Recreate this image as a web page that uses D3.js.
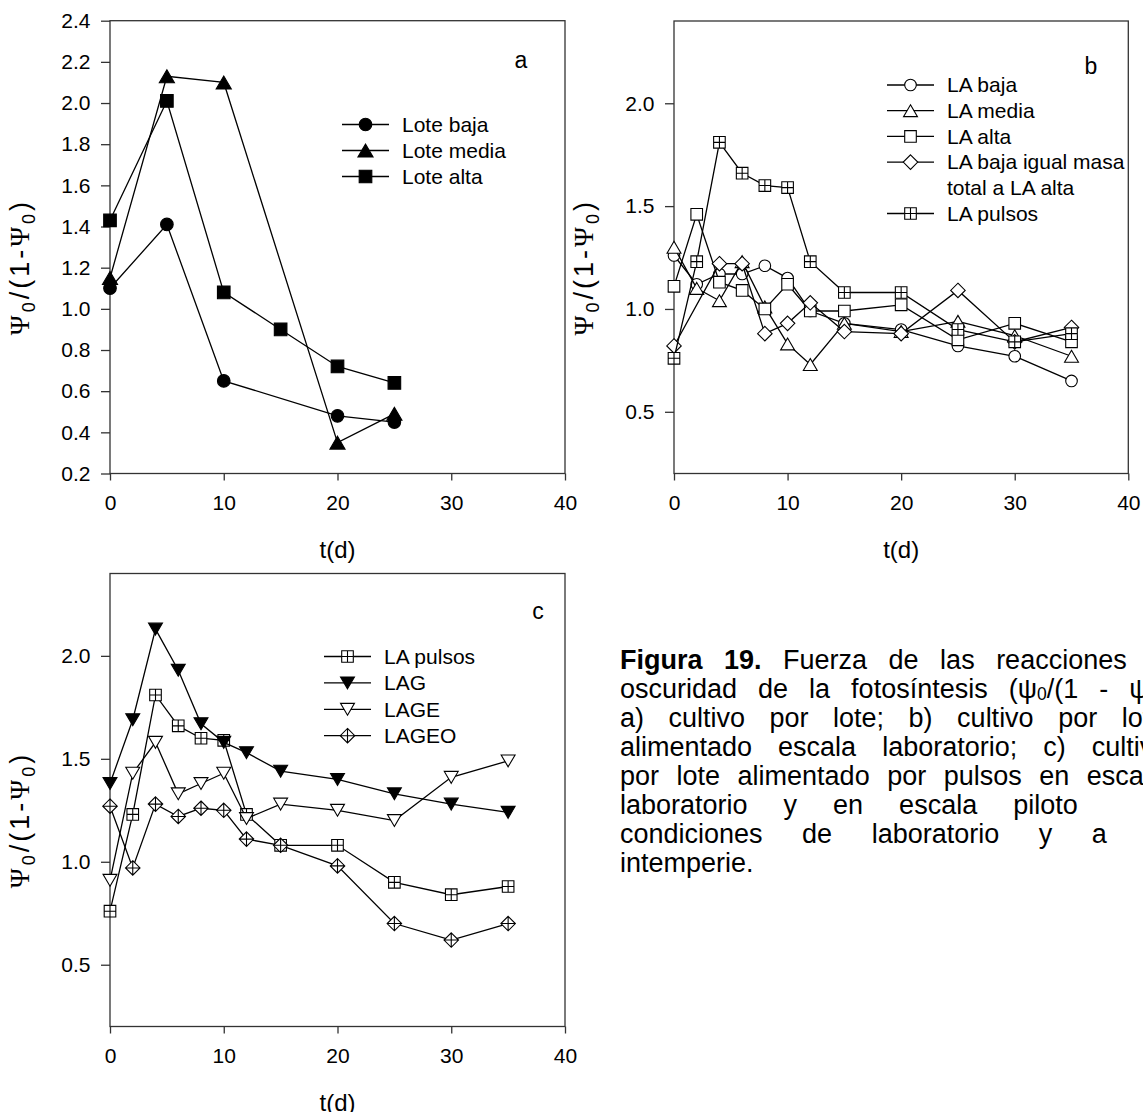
<!doctype html>
<head>
  <meta charset="utf-8">
  <script src="https://cdnjs.cloudflare.com/ajax/libs/d3/7.8.2/d3.min.js"></script>
</head>
<style>
    body { margin: 0; background: white; width: 1143px; height: 1112px; overflow: hidden; position: relative;
           font-family: Arial, "Liberation Sans", sans-serif; }
    svg { position: absolute; left: 0; top: 0; }
    .caption { position: absolute; left: 620px; top: 646px; font-size: 27px; line-height: 29px; color: #000; }
    .caption div { white-space: nowrap; }
    .caption sub { font-size: 65%; vertical-align: -2px; line-height: 0; }
    .caption .tail { margin-left: 40px; }
</style>
<body>
    <div class="caption">
        <div style="word-spacing: 14px"><b>Figura 19.</b> Fuerza de las reacciones de</div>
        <div style="word-spacing: 13.5px">oscuridad de la fotosíntesis (ψ<sub>0</sub>/(1 - ψ<sub>0</sub>)) en:</div>
        <div style="word-spacing: 17px">a) cultivo por lote; b) cultivo por lote</div>
        <div style="word-spacing: 18.5px">alimentado escala laboratorio; c) cultivo</div>
        <div style="word-spacing: 10px">por lote alimentado por pulsos en escala</div>
        <div style="word-spacing: 28.5px">laboratorio y en escala piloto <span class="tail">en</span></div>
        <div style="word-spacing: 32px">condiciones de laboratorio y a la</div>
        <div>intemperie.</div>
    </div>
    <script>
        // Datos: panel a (cultivo por lote)
        const daysLote = [0, 5, 10, 15, 20, 25];
        const loteBaja = [1.10, 1.41, 0.65, null, 0.48, 0.45];
        const loteMedia = [1.15, 2.13, 2.10, null, 0.35, 0.49];
        const loteAlta = [1.43, 2.01, 1.08, 0.90, 0.72, 0.64];

        // Datos: paneles b y c (lote alimentado)
        const daysLA = [0, 2, 4, 6, 8, 10, 12, 15, 20, 25, 30, 35];
        const laBaja = [1.26, 1.12, 1.17, 1.17, 1.21, 1.15, 0.99, 0.93, 0.90, 0.82, 0.77, 0.65];
        const laMedia = [1.30, 1.10, 1.04, 1.23, 1.01, 0.83, 0.73, 0.93, 0.89, 0.94, 0.87, 0.77];
        const laAlta = [1.11, 1.46, 1.13, 1.09, 1.00, 1.12, 0.99, 0.99, 1.02, 0.85, 0.93, 0.84];
        const laBajaIgualMasa = [0.82, null, 1.22, 1.22, 0.88, 0.93, 1.03, 0.89, 0.88, 1.09, 0.84, 0.91];
        const laPulsos = [0.76, 1.23, 1.81, 1.66, 1.60, 1.59, 1.23, 1.08, 1.08, 0.90, 0.84, 0.88];
        const lag = [1.38, 1.69, 2.13, 1.93, 1.67, 1.58, 1.53, 1.44, 1.40, 1.33, 1.28, 1.24];
        const lage = [0.91, 1.43, 1.58, 1.33, 1.38, 1.43, 1.21, 1.28, 1.25, 1.20, 1.41, 1.49];
        const lageo = [1.27, 0.97, 1.28, 1.22, 1.26, 1.25, 1.11, 1.08, 0.98, 0.70, 0.62, 0.70];

        // Ejes
        const tTicks = [0, 10, 20, 30, 40];
        const yTicksLote = [0.2, 0.4, 0.6, 0.8, 1.0, 1.2, 1.4, 1.6, 1.8, 2.0, 2.2, 2.4];
        const yTicksLA = [0.5, 1.0, 1.5, 2.0];

        // Formas de marcador (centradas en 0,0)
        function markerPath(type, s) {
            const sq = `M${-s},${-s}H${s}V${s}H${-s}Z`;
            const d = s * 1.25;
            const dm = `M0,${-d}L${d},0L0,${d}L${-d},0Z`;
            const w = s * 1.2, h = s * 2.05;
            switch (type) {
                case 'circle':
                    return `M${s},0A${s},${s} 0 1,1 ${-s},0A${s},${s} 0 1,1 ${s},0Z`;
                case 'square': return sq;
                case 'squarePlus': return sq + `M0,${-s}V${s}M${-s},0H${s}`;
                case 'diamond': return dm;
                case 'diamondPlus': return dm + `M0,${-d}V${d}M${-d},0H${d}`;
                case 'triUp': return `M0,${-h / 2}L${w},${h / 2}L${-w},${h / 2}Z`;
                case 'triDown': return `M0,${h / 2}L${w},${-h / 2}L${-w},${-h / 2}Z`;
            }
        }

        const svg = d3.select('body').append('svg')
            .attr('width', 1143)
            .attr('height', 1112)
            .style('font-family', 'Arial, "Liberation Sans", sans-serif');

        function drawPanel(cfg) {
            const x = d3.scaleLinear().domain([0, 40]).range([cfg.left, cfg.right]);
            const y = d3.scaleLinear().domain([0.2, 2.4]).range([cfg.bottom, cfg.top]);
            const g = svg.append('g');

            // Marco
            g.append('rect')
                .attr('x', cfg.left).attr('y', cfg.top)
                .attr('width', cfg.right - cfg.left).attr('height', cfg.bottom - cfg.top)
                .attr('fill', 'none').attr('stroke', '#333').attr('stroke-width', 1.3);

            // Eje x
            const gx = g.append('g')
                .attr('transform', `translate(0,${cfg.bottom})`)
                .call(d3.axisBottom(x).tickValues(tTicks).tickSize(7).tickPadding(15).tickSizeOuter(0));
            // Eje y
            const gy = g.append('g')
                .attr('transform', `translate(${cfg.left},0)`)
                .call(d3.axisLeft(y).tickValues(cfg.yTicks).tickSize(9).tickPadding(10.5)
                    .tickFormat(d3.format('.1f')).tickSizeOuter(0));
            [gx, gy].forEach(a => {
                a.select('.domain').remove();
                a.selectAll('line').attr('stroke', '#333').attr('stroke-width', 1.3);
                a.selectAll('text').attr('font-size', 21).attr('fill', '#000')
                    .attr('font-family', 'Arial, "Liberation Sans", sans-serif');
            });

            // Títulos de ejes
            g.append('text')
                .attr('x', (cfg.left + cfg.right) / 2).attr('y', cfg.bottom + 84)
                .attr('text-anchor', 'middle').attr('font-size', 24)
                .text('t(d)');
            const yl = g.append('text')
                .attr('transform', `translate(${cfg.left - 81},${(cfg.top + cfg.bottom) / 2 + 20}) rotate(-90)`)
                .attr('text-anchor', 'middle').attr('font-size', 27)
                .attr('letter-spacing', 3);
            yl.append('tspan').attr('font-family', '"Liberation Serif", "DejaVu Serif", serif').text('Ψ');
            yl.append('tspan').attr('font-size', 18).attr('dy', 6).text('0');
            yl.append('tspan').attr('dy', -6).text('/(1-');
            yl.append('tspan').attr('font-family', '"Liberation Serif", "DejaVu Serif", serif').text('Ψ');
            yl.append('tspan').attr('font-size', 18).attr('dy', 6).text('0');
            yl.append('tspan').attr('dy', -6).text(')');

            // Letra del panel
            g.append('text')
                .attr('x', cfg.letterX).attr('y', cfg.letterY)
                .attr('dy', '0.36em').attr('text-anchor', 'middle').attr('font-size', 23)
                .text(cfg.letter);

            // Series
            const line = d3.line().x(p => x(p.t)).y(p => y(p.v));
            cfg.series.forEach(s => {
                const pts = s.days.map((t, i) => ({ t: t, v: s.values[i] })).filter(p => p.v != null);
                g.append('path').datum(pts)
                    .attr('d', line)
                    .attr('fill', 'none').attr('stroke', '#000').attr('stroke-width', 1.3);
                g.selectAll(null).data(pts).enter().append('path')
                    .attr('transform', p => `translate(${x(p.t)},${y(p.v)})`)
                    .attr('d', markerPath(s.marker, cfg.size))
                    .attr('fill', s.filled ? '#000' : '#fff')
                    .attr('stroke', '#000').attr('stroke-width', 1.1);
            });

            // Leyenda
            let row = 0;
            cfg.series.forEach(s => {
                const ly = cfg.legY + row * cfg.legStep;
                g.append('line')
                    .attr('x1', cfg.legX).attr('x2', cfg.legX + 47)
                    .attr('y1', ly).attr('y2', ly)
                    .attr('stroke', '#000').attr('stroke-width', 1.3);
                g.append('path')
                    .attr('transform', `translate(${cfg.legX + 23.5},${ly})`)
                    .attr('d', markerPath(s.marker, cfg.size))
                    .attr('fill', s.filled ? '#000' : '#fff')
                    .attr('stroke', '#000').attr('stroke-width', 1.1);
                s.label.forEach((lab, k) => {
                    g.append('text')
                        .attr('x', cfg.legX + 60).attr('y', ly + k * cfg.legStep)
                        .attr('dy', '0.35em').attr('font-size', 21)
                        .text(lab);
                });
                row += s.label.length;
            });
        }

        drawPanel({
            left: 110, right: 565, top: 20.7, bottom: 473.5,
            yTicks: yTicksLote, size: 6.3,
            letter: 'a', letterX: 521, letterY: 60,
            legX: 342, legY: 124.5, legStep: 26,
            series: [
                { label: ['Lote baja'], days: daysLote, values: loteBaja, marker: 'circle', filled: true },
                { label: ['Lote media'], days: daysLote, values: loteMedia, marker: 'triUp', filled: true },
                { label: ['Lote alta'], days: daysLote, values: loteAlta, marker: 'square', filled: true },
            ],
        });

        drawPanel({
            left: 674, right: 1128.3, top: 21, bottom: 473.5,
            yTicks: yTicksLA, size: 5.8,
            letter: 'b', letterX: 1091, letterY: 66,
            legX: 887, legY: 85, legStep: 25.7,
            series: [
                { label: ['LA baja'], days: daysLA, values: laBaja, marker: 'circle' },
                { label: ['LA media'], days: daysLA, values: laMedia, marker: 'triUp' },
                { label: ['LA alta'], days: daysLA, values: laAlta, marker: 'square' },
                { label: ['LA baja igual masa', 'total a LA alta'], days: daysLA, values: laBajaIgualMasa, marker: 'diamond' },
                { label: ['LA pulsos'], days: daysLA, values: laPulsos, marker: 'squarePlus' },
            ],
        });

        drawPanel({
            left: 110, right: 565, top: 573.5, bottom: 1026.5,
            yTicks: yTicksLA, size: 5.8,
            letter: 'c', letterX: 538, letterY: 611,
            legX: 324, legY: 656.5, legStep: 26.4,
            series: [
                { label: ['LA pulsos'], days: daysLA, values: laPulsos, marker: 'squarePlus' },
                { label: ['LAG'], days: daysLA, values: lag, marker: 'triDown', filled: true },
                { label: ['LAGE'], days: daysLA, values: lage, marker: 'triDown' },
                { label: ['LAGEO'], days: daysLA, values: lageo, marker: 'diamondPlus' },
            ],
        });
    </script>
</body>
